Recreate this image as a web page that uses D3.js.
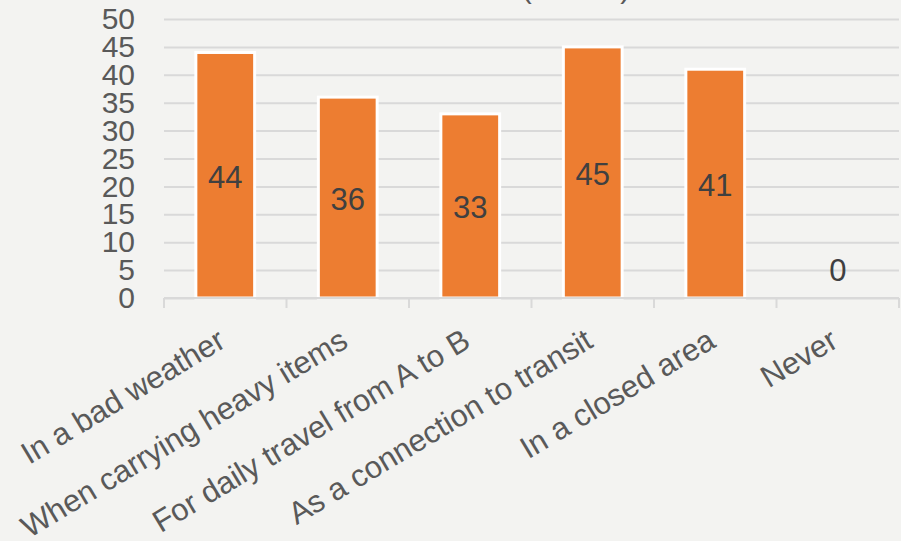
<!DOCTYPE html>
<html>
<head>
<meta charset="utf-8">
<script src="https://cdn.jsdelivr.net/npm/d3@7"></script>
<style>
  body { margin: 0; background: #f3f3f1; }
  svg { display: block; font-family: "Liberation Sans", Arial, sans-serif; }
</style>
</head>
<body>
<div id="chart"></div>
<script>
// data
const categories = ["In a bad weather", "When carrying heavy items", "For daily travel from A to B",
    "As a connection to transit", "In a closed area", "Never"];
const values = [44, 36, 33, 45, 41, 0];
const yTicks = [0, 5, 10, 15, 20, 25, 30, 35, 40, 45, 50];
const titleText = "(in %)";

// set the dimensions and margins of the graph
const margin = { top: 19, right: 2, bottom: 243, left: 164 },
    width = 901 - margin.left - margin.right,
    height = 541 - margin.top - margin.bottom;

const root = d3.select("#chart")
    .append("svg")
    .attr("width", 901)
    .attr("height", 541);

root.append("rect")
    .attr("width", 901)
    .attr("height", 541)
    .attr("fill", "#f3f3f1");

// title, mostly cut off at the top edge
root.append("text")
    .attr("x", 579)
    .attr("y", -2)
    .attr("text-anchor", "middle")
    .attr("letter-spacing", "6px")
    .attr("font-size", "30px")
    .attr("fill", "#595959")
    .text(titleText);

const svg = root.append("g")
    .attr("transform", `translate(${margin.left},${margin.top})`);

const x = d3.scaleBand()
    .domain(categories)
    .range([0, width])
    .paddingInner(0.52)
    .paddingOuter(0.26);

const y = d3.scaleLinear()
    .domain([0, 50])
    .range([height, 0]);

// gridlines
svg.append("g")
    .attr("class", "grid")
    .call(d3.axisLeft(y).tickValues(yTicks).tickSize(-width).tickFormat(""))
    .call(g => g.select(".domain").remove())
    .call(g => g.selectAll("line").attr("stroke", "#d9d9d9").attr("stroke-width", 2));

// y axis labels
svg.append("g")
    .call(d3.axisLeft(y).tickValues(yTicks).tickSize(0).tickPadding(29))
    .call(g => g.select(".domain").remove())
    .call(g => g.selectAll("text")
        .attr("font-size", "30px")
        .attr("fill", "#595959")
        .attr("font-family", "Liberation Sans, Arial, sans-serif"));

// bars
svg.selectAll(".bar")
    .data(values)
    .enter().append("rect")
    .attr("class", "bar")
    .attr("fill", "#ed7d31")
    .attr("stroke", "#ffffff")
    .attr("stroke-width", 3)
    .attr("x", (d, i) => x(categories[i]))
    .attr("width", x.bandwidth())
    .attr("y", d => y(d))
    .attr("height", d => height - y(d));

// x axis line and boundary ticks
svg.append("line")
    .attr("x1", 0).attr("x2", width)
    .attr("y1", height).attr("y2", height)
    .attr("stroke", "#d9d9d9").attr("stroke-width", 2);

svg.selectAll(".cat-tick")
    .data(d3.range(categories.length + 1))
    .enter().append("line")
    .attr("class", "cat-tick")
    .attr("x1", i => i * x.step()).attr("x2", i => i * x.step())
    .attr("y1", height).attr("y2", height + 10)
    .attr("stroke", "#d9d9d9").attr("stroke-width", 2);

// x axis labels, rotated
svg.append("g")
    .attr("transform", `translate(0, ${height})`)
    .call(d3.axisBottom(x).tickSize(0))
    .call(g => g.select(".domain").remove())
    .call(g => g.selectAll("text")
        .attr("y", 0)
        .attr("dy", 0)
        .attr("text-anchor", "end")
        .attr("transform", "translate(2, 48) rotate(-31)")
        .attr("font-size", "31px")
        .attr("fill", "#595959")
        .attr("font-family", "Liberation Sans, Arial, sans-serif"));

// data labels
svg.selectAll(".label")
    .data(values)
    .enter().append("text")
    .attr("class", "label")
    .attr("x", (d, i) => x(categories[i]) + x.bandwidth() / 2)
    .attr("y", d => Math.min((y(0) + y(d)) / 2 + 2, y(0) - 28))
    .attr("text-anchor", "middle")
    .attr("dominant-baseline", "central")
    .attr("font-size", "31px")
    .attr("fill", "#404040")
    .text(d => d);
</script>
</body>
</html>
